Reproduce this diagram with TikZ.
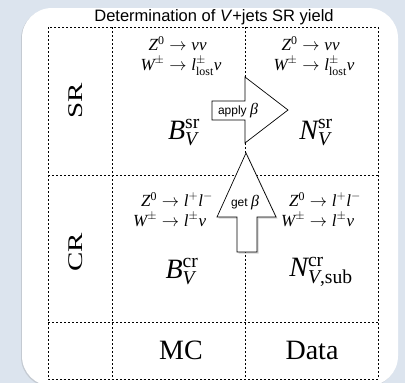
\documentclass[tikz,border=0pt]{standalone}
\usepackage{amsmath}
\usepackage[no-math]{fontspec}
\setmainfont{Liberation Serif}
\setsansfont{Liberation Sans}
\usetikzlibrary{shadows,calc}
\newcommand{\ti}[1]{\text{\itshape #1}}
\newcommand{\tr}[1]{\text{\upshape #1}}
\renewcommand{\arraystretch}{0.92}
\definecolor{bgblue}{HTML}{DCE4EE}
\tikzset{
  grid/.style={line width=1pt, dash pattern=on 2pt off 2pt},
  big/.style={font=\fontsize{28}{30}\selectfont, inner sep=0pt},
  small/.style={font=\fontsize{17}{19}\selectfont, inner sep=0pt},
  arrowshape/.style={draw=black, line width=0.7pt, fill=white, line join=miter},
  lbl/.style={font=\sffamily\fontsize{12}{13}\selectfont, inner sep=0pt},
}
\begin{document}
\begin{tikzpicture}[x=1pt,y=-1pt]
\useasboundingbox (0,0) rectangle (405,383);
\fill[bgblue] (0,0) rectangle (405,383);
\begin{scope}
\clip (0,0) rectangle (405,383);
\fill[white, rounded corners=30pt, drop shadow={shadow xshift=-1pt, shadow yshift=-1pt, opacity=0.25}] (22,8) rectangle (398,386);
\end{scope}
% title
\node[font=\sffamily\fontsize{16.5}{18}\selectfont, inner sep=0pt] (title) at (214,17) {Determination of \textit{V}+jets SR yield};
% grid
\coordinate (tl) at (48,27);
\coordinate (br) at (378,379);
\draw[grid] (tl) rectangle (br);
\draw[grid] (112,27) -- (112,379);
\draw[grid] (245,27) -- (245,379);
\draw[grid] (48,175) -- (378,175);
\draw[grid] (48,322) -- (378,322);
% row labels
\node[inner sep=0pt, rotate=90] (sr) at (76,101) {\scalebox{1}[0.72]{\fontsize{29}{30}\selectfont SR}};
\node[inner sep=0pt, rotate=90] (cr) at (76,252) {\scalebox{1}[0.72]{\fontsize{29}{30}\selectfont CR}};
% SR cells
\node[small] (srl) at (181,56) {$\begin{array}{@{}r@{\;}l@{}} \ti{Z}^{\tr{0}} \to & \ti{νν} \\ \ti{W}^{\pm} \to & \ti{l}^{\pm}_{\tr{lost}}\ti{ν} \end{array}$};
\node[small] (srr) at (314,56) {$\begin{array}{@{}r@{\;}l@{}} \ti{Z}^{\tr{0}} \to & \ti{νν} \\ \ti{W}^{\pm} \to & \ti{l}^{\pm}_{\tr{lost}}\ti{ν} \end{array}$};
\node[big] (bsr) at (184,133) {$\ti{B}^{\tr{sr}}_{\ti{V}}$};
\node[big] (nsr) at (316,133) {$\ti{N}^{\tr{sr}}_{\ti{V}}$};
% CR cells
\node[small] (crl) at (173,212) {$\begin{array}{@{}r@{\;}l@{}} \ti{Z}^{\tr{0}} \to & \ti{l}^{+}\ti{l}^{-} \\ \ti{W}^{\pm} \to & \ti{l}^{\pm}\ti{ν} \end{array}$};
\node[small] (crr) at (321,212) {$\begin{array}{@{}r@{\;}l@{}} \ti{Z}^{\tr{0}} \to & \ti{l}^{+}\ti{l}^{-} \\ \ti{W}^{\pm} \to & \ti{l}^{\pm}\ti{ν} \end{array}$};
\node[big] (bcr) at (182,272) {$\ti{B}^{\tr{cr}}_{\ti{V}}$};
\node[big] (ncr) at (321,272) {$\ti{N}^{\tr{cr}}_{\ti{V}\tr{,sub}}$};
% bottom row
\node[big] (mc) at (181,350) {MC};
\node[big] (data) at (312,350) {Data};
% arrows
\draw[arrowshape] (212,101) -- (245,101) -- (245,77) -- (288,110) -- (245,143) -- (245,120) -- (212,120) -- cycle;
\node[lbl] (apply) at (238,111) {apply {\rmfamily\itshape\fontsize{16}{16}\selectfont β}};
\draw[arrowshape, drop shadow={shadow xshift=1.5pt, shadow yshift=-1.5pt, opacity=0.35}] (237,252) -- (237,217) -- (217,217) -- (246,153) -- (276,217) -- (257,217) -- (257,252) -- cycle;
\node[lbl] (get) at (245,203) {get {\rmfamily\itshape\fontsize{16}{16}\selectfont β}};
\end{tikzpicture}
\end{document}
